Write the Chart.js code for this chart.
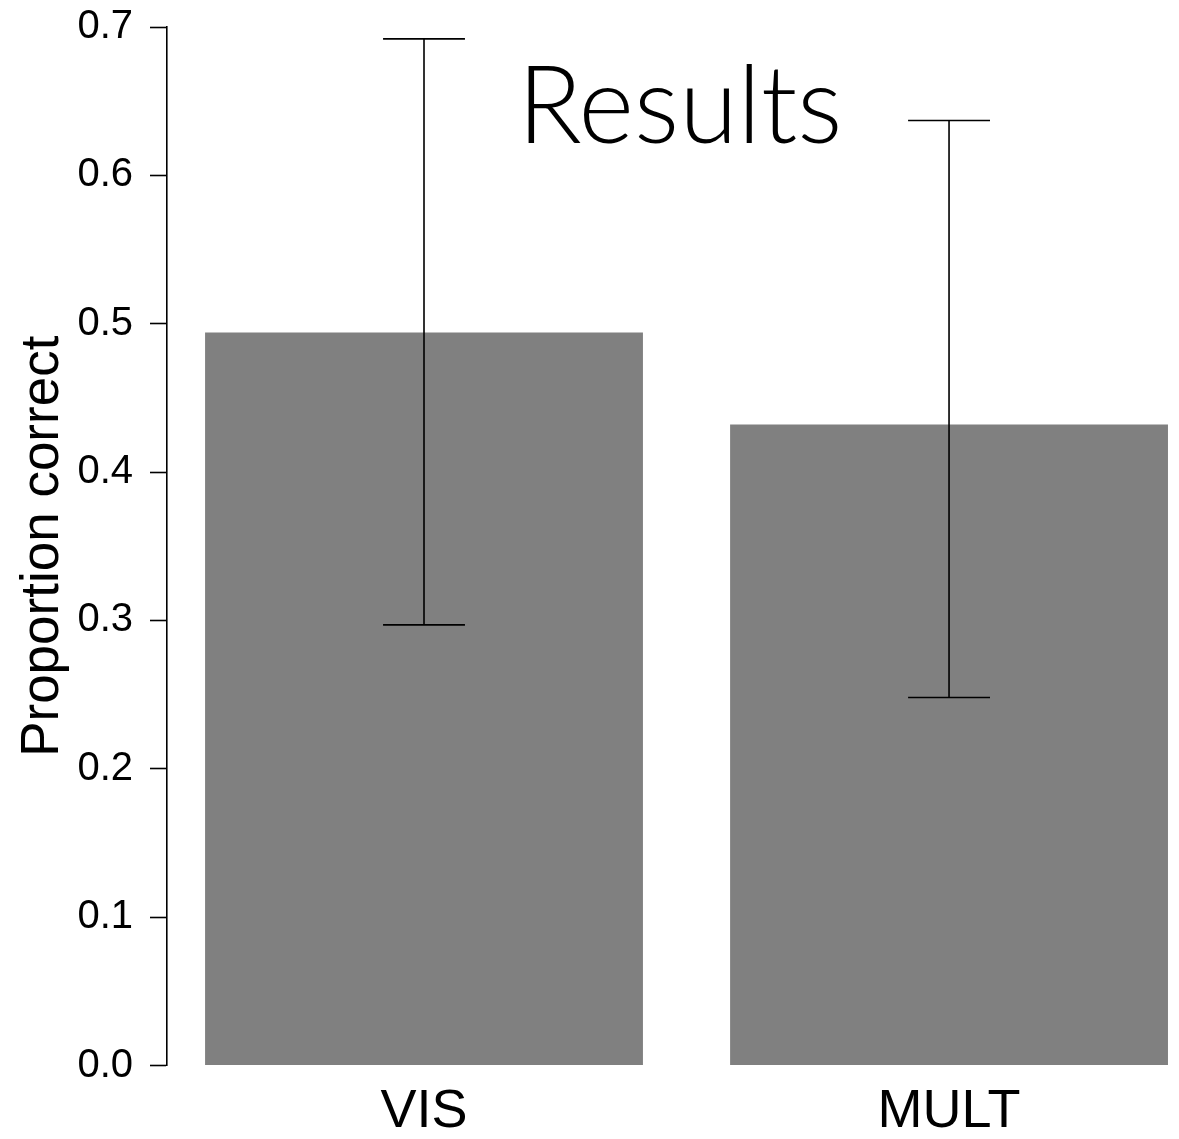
<!DOCTYPE html>
<html>
<head>
<meta charset="utf-8">
<script src="https://cdn.jsdelivr.net/npm/chart.js@4.4.1/dist/chart.umd.min.js"></script>
<style>
  html, body { margin: 0; padding: 0; background: #fff; }
  #wrap { width: 1179px; height: 1139px; }
</style>
</head>
<body>
<div id="wrap"><canvas id="resultsChart" width="1179" height="1139"></canvas></div>
<script>
// data
const categories = ["VIS", "MULT"];
const means = [0.494, 0.432];
const upperCI = [0.692, 0.637];
const lowerCI = [0.297, 0.248];
const yMax = 0.7;
const yStep = 0.1;

// error bars drawn through the scales
const errorBars = {
    id: "errorBars",
    afterDatasetsDraw(chart) {
        const { ctx, scales: { x, y } } = chart;
        const capHalf = 0.078;
        ctx.save();
        ctx.strokeStyle = "#000";
        ctx.lineWidth = 1.6;
        categories.forEach((c, i) => {
            const cx = x.getPixelForValue(i);
            const yt = y.getPixelForValue(upperCI[i]);
            const yb = y.getPixelForValue(lowerCI[i]);
            const xl = x.getPixelForValue(i - capHalf);
            const xr = x.getPixelForValue(i + capHalf);
            ctx.beginPath();
            ctx.moveTo(cx, yt); ctx.lineTo(cx, yb);
            ctx.moveTo(xl, yt); ctx.lineTo(xr, yt);
            ctx.moveTo(xl, yb); ctx.lineTo(xr, yb);
            ctx.stroke();
        });
        ctx.restore();
    }
};

// big "Results" heading sitting inside the plot
const heading = {
    id: "heading",
    afterDraw(chart) {
        const ctx = chart.ctx;
        const text = "Results";
        ctx.save();
        ctx.font = "300 108px Lato, 'Open Sans', sans-serif";
        const w = ctx.measureText(text).width;
        const targetW = 325;
        ctx.translate(680, 143);
        ctx.scale(targetW / w, 1);
        ctx.fillStyle = "#000";
        ctx.textAlign = "center";
        ctx.textBaseline = "alphabetic";
        ctx.fillText(text, 0, 0);
        ctx.restore();
    }
};

const ctx = document.getElementById("resultsChart").getContext("2d");
const resultsChart = new Chart(ctx, {
    type: "bar",
    data: {
        datasets: [{
            label: "Proportion correct",
            data: means.map((v, i) => ({ x: i, y: v })),
            backgroundColor: "#808080",
            borderWidth: 0,
            barPercentage: 0.834,
            categoryPercentage: 1
        }]
    },
    options: {
        responsive: false,
        animation: false,
        layout: { padding: { top: 27, left: 0, right: 0, bottom: 0 } },
        plugins: {
            legend: { display: false },
            tooltip: { enabled: false }
        },
        scales: {
            x: {
                type: "linear",
                offset: false,
                min: -0.4895,
                max: 1.438,
                afterBuildTicks: (scale) => {
                    scale.ticks = categories.map((c, i) => ({ value: i }));
                },
                afterFit: (scale) => {
                    scale.height = 73.5;
                    scale.paddingLeft = 0;
                    scale.paddingRight = 0;
                },
                grid: { display: false },
                border: { display: false },
                ticks: {
                    callback: (v) => categories[v],
                    color: "#000",
                    padding: 6,
                    maxRotation: 0,
                    font: { family: "'Liberation Sans', Arial, sans-serif", size: 54 }
                }
            },
            y: {
                min: 0,
                max: yMax,
                afterFit: (scale) => {
                    scale.width = 167;
                    scale.paddingTop = 0;
                    scale.paddingBottom = 0;
                },
                grid: {
                    drawOnChartArea: false,
                    drawTicks: true,
                    tickLength: 17,
                    tickColor: "#000",
                    tickWidth: 1.6
                },
                border: { display: true, color: "#000", width: 1.6 },
                ticks: {
                    stepSize: yStep,
                    padding: 17,
                    color: "#000",
                    callback: (v) => v.toFixed(1),
                    font: { family: "'Liberation Sans', Arial, sans-serif", size: 40 }
                },
                title: {
                    display: true,
                    text: "Proportion correct",
                    color: "#000",
                    padding: { top: 12, bottom: 0 },
                    font: { family: "'Liberation Sans', Arial, sans-serif", size: 53 }
                }
            }
        }
    },
    plugins: [errorBars, heading]
});
</script>
</body>
</html>
